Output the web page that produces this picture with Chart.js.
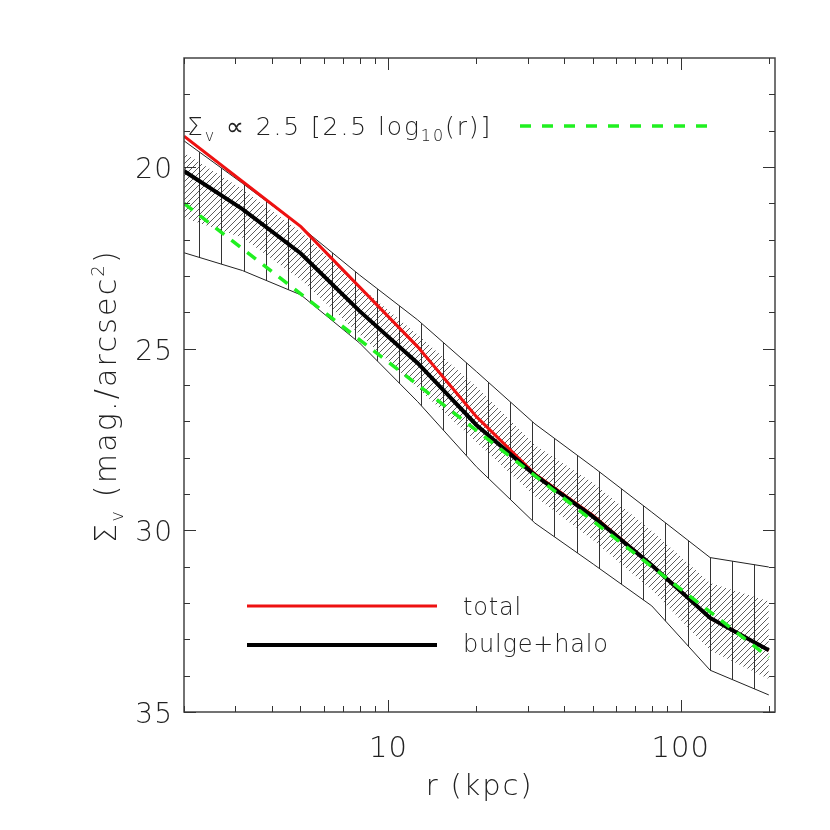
<!DOCTYPE html>
<html>
<head>
<meta charset="utf-8">
<script src="https://cdn.jsdelivr.net/npm/chart.js@4"></script>
<style>
  body { margin: 0; background: #fff; }
  canvas { display: block; }
</style>
</head>
<body>
<canvas id="chart" width="830" height="830"></canvas>
<script>
// radii of the profile points (kpc)
var radius = [2, 3.17, 5.02, 7.96, 12.6, 20, 31.7, 50.2, 79.6, 126, 200]

// surface brightness profiles (mag/arcsec^2)
var total = [19.15, 20.40, 21.64, 23.30, 24.95, 26.87, 28.45, 29.60, 30.96, 32.41, 33.30]
var bulgeHalo = [20.11, 21.16, 22.38, 23.96, 25.40, 27.10, 28.48, 29.63, 30.96, 32.41, 33.30]

// inner (hatched) and outer (vertical lines) uncertainty bands
var innerTop = [19.61, 20.61, 21.79, 23.28, 24.62, 26.05, 27.65, 28.70, 30.02, 31.45, 31.95]
var innerBottom = [21.40, 21.95, 23.10, 24.60, 26.08, 27.57, 29.06, 30.27, 31.64, 33.30, 34.09]
var outerTop = [19.28, 20.45, 21.65, 22.97, 24.21, 25.63, 27.07, 28.26, 29.50, 30.75, 31.01]
var outerBottom = [22.36, 22.85, 23.52, 24.84, 26.46, 28.25, 29.80, 30.93, 32.08, 33.85, 34.53]

// power law reference line
var fitR = [2, 200]
var fitMag = [21.0, 33.5]

// ticks
var xMajor = [10, 100]
var xMinor = [2, 3, 4, 5, 6, 7, 8, 9, 20, 30, 40, 50, 60, 70, 80, 90, 200]
var yMajor = [20, 25, 30, 35]
var yMinor = [18, 19, 21, 22, 23, 24, 26, 27, 28, 29, 31, 32, 33, 34]

var FONT = '"DejaVu Sans"'
var WEIGHT = '200'

function points (xs, ys) {
	return xs.map((x, i) => ({ x: x, y: ys[i] }))
}

// fill pattern: vertical lines
function verticalPattern (ctx) {
	var c = document.createElement('canvas')
	c.width = 111
	c.height = 4
	var g = c.getContext('2d')
	g.fillStyle = '#333'
	;[22, 44, 66, 88, 110].forEach(x => g.fillRect(x, 0, 1, 4))
	return ctx.createPattern(c, 'repeat')
}

// fill pattern: diagonal hatching
function hatchPattern (ctx) {
	var c = document.createElement('canvas')
	c.width = 6
	c.height = 6
	var g = c.getContext('2d')
	g.strokeStyle = '#333'
	g.lineWidth = 0.8
	g.beginPath()
	g.moveTo(-1, 7)
	g.lineTo(7, -1)
	g.stroke()
	return ctx.createPattern(c, 'repeat')
}

function fontStr (size) {
	return WEIGHT + ' ' + size + 'px ' + FONT
}

// draws text made of parts [text, size, dy]
function richText (ctx, parts, x, y, align, spacing) {
	ctx.letterSpacing = (spacing || 0) + 'px'
	var w = 0
	parts.forEach(p => { ctx.font = fontStr(p[1]); w += ctx.measureText(p[0]).width })
	var cx = align === 'center' ? x - w / 2 : x
	parts.forEach(p => {
		ctx.font = fontStr(p[1])
		ctx.fillText(p[0], cx, y + p[2])
		cx += ctx.measureText(p[0]).width
	})
	ctx.letterSpacing = '0px'
	return cx
}

var decorations = {
	id: 'decorations',
	afterDraw: function (chart) {
		var ctx = chart.ctx
		var a = chart.chartArea
		var xs = chart.scales.x
		var ys = chart.scales.y
		ctx.save()

		// frame
		ctx.strokeStyle = '#444'
		ctx.lineWidth = 1.5
		ctx.strokeRect(a.left, a.top, a.right - a.left, a.bottom - a.top)

		// ticks on all four sides, inside
		ctx.lineWidth = 1
		ctx.strokeStyle = '#333'
		ctx.beginPath()
		function xTick (v, len) {
			var p = Math.round(xs.getPixelForValue(v)) + 0.5
			ctx.moveTo(p, a.bottom); ctx.lineTo(p, a.bottom - len)
			ctx.moveTo(p, a.top); ctx.lineTo(p, a.top + len)
		}
		function yTick (v, len) {
			var p = Math.round(ys.getPixelForValue(v)) + 0.5
			ctx.moveTo(a.left, p); ctx.lineTo(a.left + len, p)
			ctx.moveTo(a.right, p); ctx.lineTo(a.right - len, p)
		}
		xMajor.forEach(v => xTick(v, 12))
		xMinor.forEach(v => xTick(v, 6))
		yMajor.forEach(v => yTick(v, 12))
		yMinor.forEach(v => yTick(v, 6))
		ctx.stroke()

		// tick labels
		ctx.fillStyle = '#222'
		ctx.textBaseline = 'alphabetic'
		yMajor.forEach(v => {
			var s = String(v)
			ctx.font = fontStr(28)
			ctx.letterSpacing = '1px'
			var w = ctx.measureText(s).width
			ctx.fillText(s, a.left - 11 - w, ys.getPixelForValue(v) + 11)
		})
		xMajor.forEach(v => richText(ctx, [[String(v), 29, 0]], xs.getPixelForValue(v), a.bottom + 45, 'center', 1))

		// axis titles
		richText(ctx, [['r (kpc)', 29, 0]], (a.left + a.right) / 2, a.bottom + 83, 'center', 1.8)
		ctx.save()
		ctx.translate(116, 396)
		ctx.rotate(-Math.PI / 2)
		richText(ctx, [['\u03A3', 30, 0], ['v', 18, 7], [' (mag./arcsec', 30, 0], ['2', 18, -12], [')', 30, 0]], 0, 0, 'center', 2.2)
		ctx.restore()

		// power law annotation
		var end = richText(ctx, [['\u03A3', 25, 0], ['v', 16, 6], [' \u221D 2.5 [2.5 log', 25, 0], ['10', 16, 6], ['(r)]', 25, 0]], a.left + 3, a.top + 77, 'left', 1.9)
		ctx.strokeStyle = '#20f020'
		ctx.lineWidth = 3.5
		ctx.setLineDash([11, 11])
		ctx.beginPath()
		ctx.moveTo(a.left + 336, a.top + 68)
		ctx.lineTo(a.left + 528, a.top + 68)
		ctx.stroke()
		ctx.setLineDash([])

		// legend
		ctx.lineWidth = 3
		ctx.strokeStyle = '#ee1111'
		ctx.beginPath()
		ctx.moveTo(a.left + 63, a.top + 548)
		ctx.lineTo(a.left + 253, a.top + 548)
		ctx.stroke()
		ctx.lineWidth = 4
		ctx.strokeStyle = '#000'
		ctx.beginPath()
		ctx.moveTo(a.left + 63, a.top + 587)
		ctx.lineTo(a.left + 253, a.top + 587)
		ctx.stroke()
		richText(ctx, [['total', 24, 0]], a.left + 279, a.top + 557, 'left', 0.8)
		richText(ctx, [['bulge+halo', 24, 0]], a.left + 279, a.top + 594, 'left', 0.8)

		ctx.restore()
	}
}

var ctx = document.getElementById('chart').getContext('2d')

var chart = new Chart(ctx, {
	type: 'line',
	data: {
		datasets: [
			{
				label: 'outer upper',
				data: points(radius, outerTop),
				borderColor: '#222',
				borderWidth: 1,
				backgroundColor: verticalPattern(ctx),
				fill: '+1',
				order: 10
			},
			{
				label: 'outer lower',
				data: points(radius, outerBottom),
				borderColor: '#222',
				borderWidth: 1,
				fill: false,
				order: 9
			},
			{
				label: 'inner upper',
				data: points(radius, innerTop),
				borderWidth: 0,
				borderColor: 'rgba(0,0,0,0)',
				backgroundColor: hatchPattern(ctx),
				fill: '+1',
				order: 8
			},
			{
				label: 'inner lower',
				data: points(radius, innerBottom),
				borderWidth: 0,
				borderColor: 'rgba(0,0,0,0)',
				fill: false,
				order: 7
			},
			{
				label: 'total',
				data: points(radius, total),
				borderColor: '#ee1111',
				borderWidth: 3,
				fill: false,
				order: 3
			},
			{
				label: 'bulge+halo',
				data: points(radius, bulgeHalo),
				borderColor: '#000',
				borderWidth: 4,
				fill: false,
				order: 2
			},
			{
				label: 'power law',
				data: points(fitR, fitMag),
				borderColor: '#20f020',
				borderWidth: 3.5,
				borderDash: [11, 9],
				fill: false,
				order: 1
			}
		]
	},
	options: {
		responsive: false,
		animation: false,
		events: [],
		elements: {
			point: { radius: 0 },
			line: { tension: 0 }
		},
		layout: {
			padding: { left: 0, top: 58, right: 55, bottom: 0 }
		},
		plugins: {
			legend: { display: false },
			tooltip: { enabled: false },
			filler: { propagate: false }
		},
		scales: {
			x: {
				type: 'logarithmic',
				min: 2,
				max: 210,
				grid: { display: false },
				border: { display: false },
				ticks: { display: false },
				afterFit: function (s) { s.height = 118 }
			},
			y: {
				min: 17,
				max: 35,
				reverse: true,
				grid: { display: false },
				border: { display: false },
				ticks: { display: false },
				afterFit: function (s) { s.width = 184 }
			}
		}
	},
	plugins: [decorations]
})
</script>
</body>
</html>
